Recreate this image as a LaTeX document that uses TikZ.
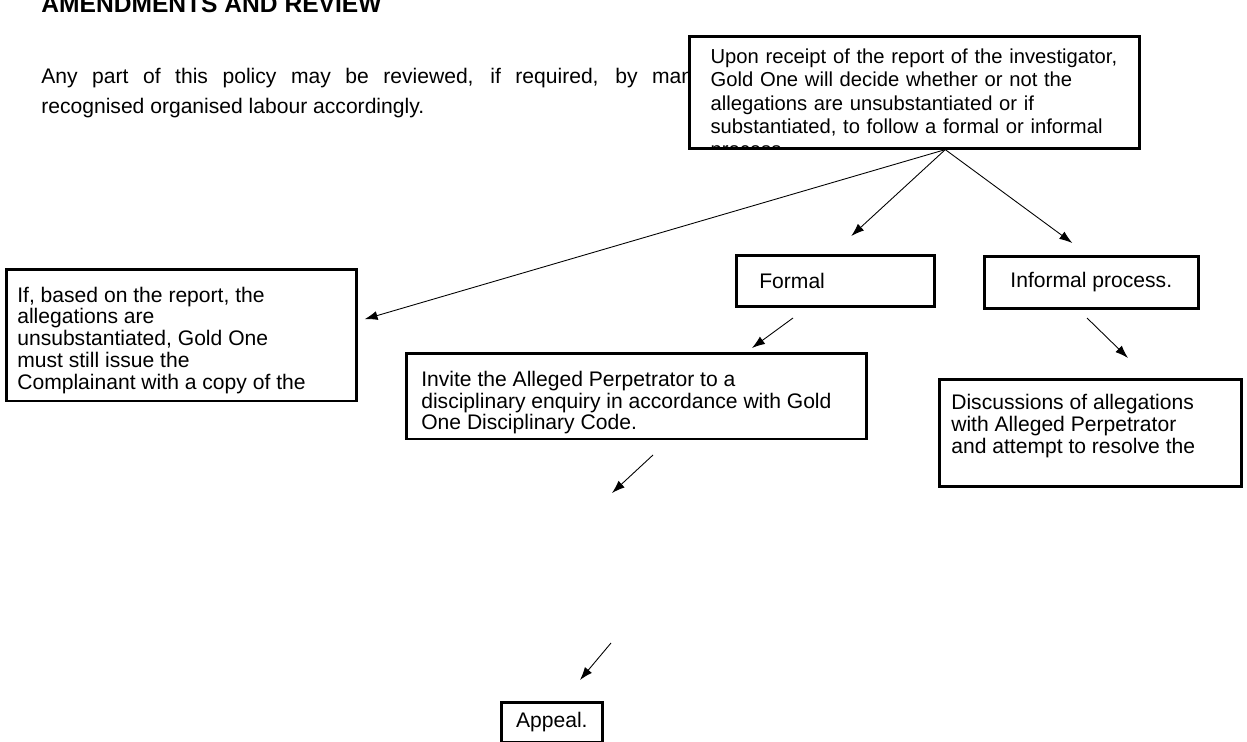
\documentclass[tikz,border=0pt]{standalone}
\usepackage{fontspec}
\setmainfont{Liberation Sans}
\usetikzlibrary{arrows.meta}
\tikzset{
  box/.style={draw, line width=1.5pt, fill=white, anchor=north west},
  boxtext/.style={font=\fontsize{12}{12.4}\selectfont, align=left, anchor=north west, inner sep=0pt},
  para/.style={font=\fontsize{12}{17}\selectfont, anchor=base west, inner sep=0pt},
  arr/.style={-{Latex[length=2.6mm,width=1.8mm]}, line width=0.5pt},
}
\begin{document}
\begin{tikzpicture}[x=0.02cm, y=-0.02cm]
\useasboundingbox (0,0) rectangle (1247,742);
\node[para, font=\fontsize{14}{17}\selectfont\bfseries] (title) at (41,13) {AMENDMENTS AND REVIEW};
\node[para] (par1) at (41,84) {\makebox[13.04cm][s]{Any part of this policy may be reviewed, if required, by man}};
\node[para] (par2) at (41,114) {recognised organised labour accordingly.};
\node[box, minimum width=9cm, minimum height=2.24cm,
  path picture={\node[boxtext, font=\fontsize{11.5}{13.3}\selectfont, minimum width=0pt, minimum height=0pt, text width=8.4cm]
  at ([shift={(0.4cm,-0.22cm)}]path picture bounding box.north west)
  {Upon receipt of the report of the investigator,\\ Gold One will decide whether or not the\\ allegations are unsubstantiated or if\\ substantiated, to follow a formal or informal\\ process.};}]
  (decide) at (688,35) {};
\node[box, boxtext, inner xsep=0.22cm, inner ysep=0.15cm] (unsub) at (5,268)
  {\parbox[c][2.25cm][b]{6.56cm}{\raggedright If, based on the report, the\\ allegations are\\ unsubstantiated, Gold One\\ must still issue the\\ Complainant with a copy of the}};
\node[box, boxtext, minimum width=3.96cm, minimum height=1.02cm, text width=3.04cm, inner xsep=0.46cm] (formal) at (735,254) {Formal};
\node[box, boxtext, minimum width=4.28cm, minimum height=1.04cm, align=center] (informal) at (983,255) {Informal process.};
\node[box, boxtext, inner xsep=0.3cm, inner ysep=0.1cm] (invite) at (405,352)
  {\parbox[c][1.43cm][b]{8.6cm}{\raggedright Invite the Alleged Perpetrator to a\\ disciplinary enquiry in accordance with Gold\\ One Disciplinary Code.}};
\node[box, boxtext, inner xsep=0.24cm, inner ysep=0.3cm] (discuss) at (938,378)
  {\parbox[c][1.54cm][t]{5.56cm}{\raggedright Discussions of allegations\\ with Alleged Perpetrator\\ and attempt to resolve the}};
\node[box, boxtext, minimum width=2.02cm, minimum height=0.8cm, align=center] (appeal) at (500,701) {Appeal.};
% arrows out of the decision box
\draw[arr] ([xshift=0.62cm]decide.south) -- ([shift={(0.14cm,0.32cm)}]unsub.east);
\draw[arr] ([xshift=0.62cm]decide.south) -- ([shift={(0.32cm,0.36cm)}]formal.north);
\draw[arr] ([xshift=0.62cm]decide.south) -- ([shift={(-0.38cm,0.24cm)}]informal.north);
% loose arrows
\coordinate (a1) at (793,318); \coordinate (a2) at (752,348);
\coordinate (b1) at (1087,318); \coordinate (b2) at (1128,358);
\coordinate (c1) at (653,455); \coordinate (c2) at (612,493);
\coordinate (d1) at (611,643); \coordinate (d2) at (580,680);
\draw[arr] (a1) -- (a2);
\draw[arr] (b1) -- (b2);
\draw[arr] (c1) -- (c2);
\draw[arr] (d1) -- (d2);
\end{tikzpicture}
\end{document}
